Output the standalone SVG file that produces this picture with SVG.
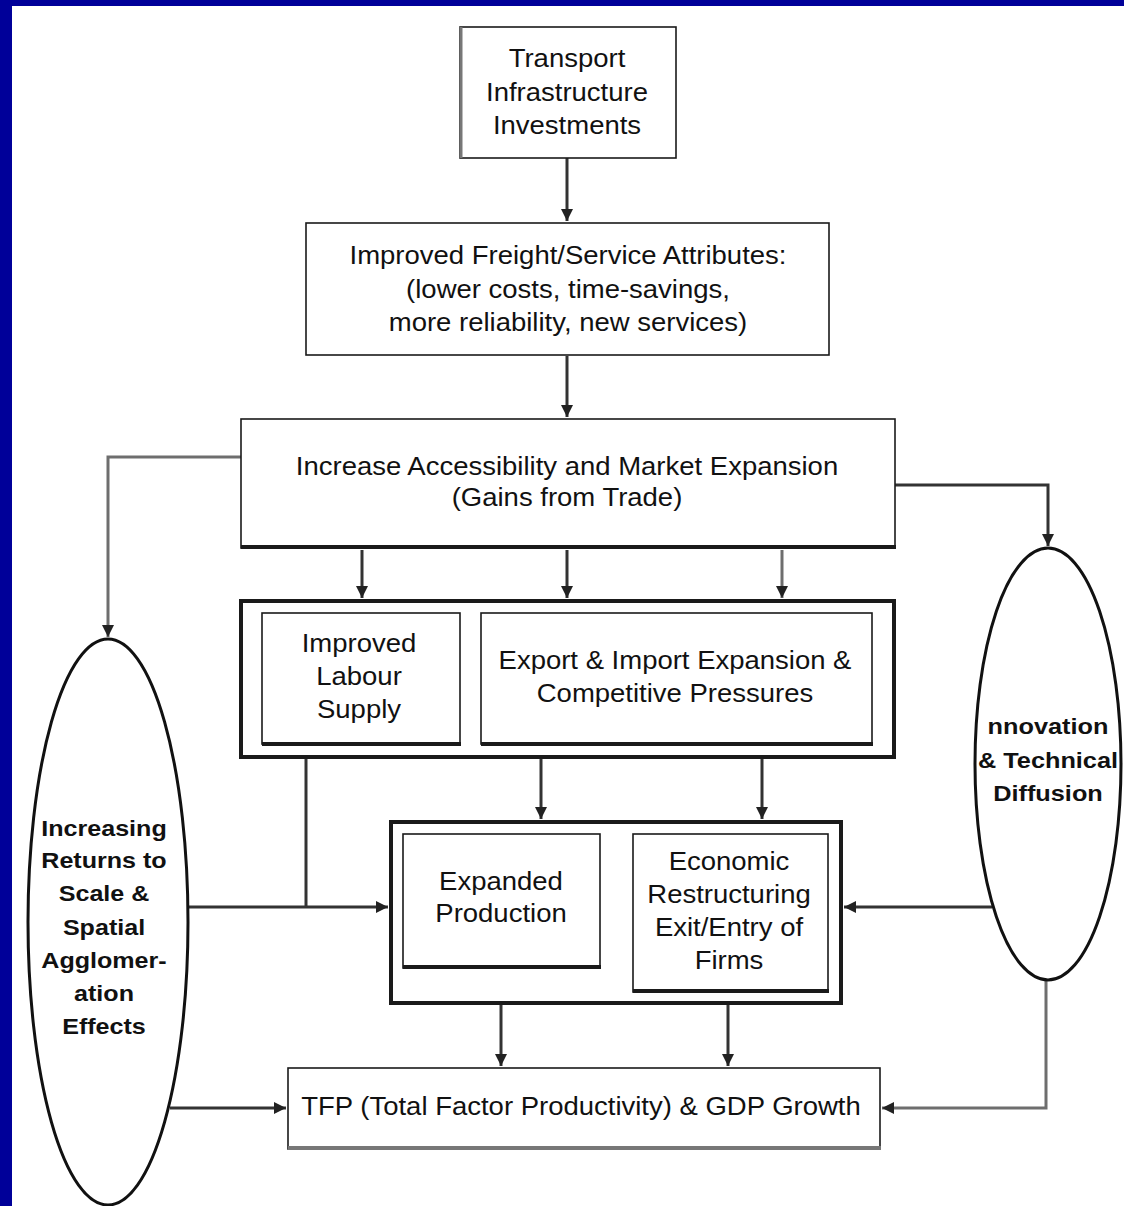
<svg xmlns="http://www.w3.org/2000/svg" width="1124" height="1206" viewBox="0 0 1124 1206">
<style>
.bx{fill:#fff;stroke:#1a1a1a;stroke-width:1.6}
.outer{fill:#fff;stroke:#1a1a1a;stroke-width:4}
.sh{stroke:#1a1a1a;stroke-width:4;fill:none}
.shg{stroke:#777;stroke-width:4;fill:none}
.t{font-family:"Liberation Sans",Arial,sans-serif;font-size:25px;fill:#111;text-anchor:middle}
.tb{font-family:"Liberation Sans",Arial,sans-serif;font-size:22px;font-weight:bold;fill:#111;text-anchor:middle}
.ell{fill:#fff;stroke:#111;stroke-width:3}
.c{fill:none;stroke:#333;stroke-width:3}
.cg{fill:none;stroke:#6e6e6e;stroke-width:3}
</style>
<defs>
<marker id="ah" viewBox="0 0 10 10" refX="10" refY="5" markerWidth="4" markerHeight="4" markerUnits="strokeWidth" orient="auto">
<path d="M0 0 L10 5 L0 10 Z" fill="#222"/>
</marker>
</defs>
<rect x="0" y="0" width="1124" height="1206" fill="#fff"/>
<rect x="0" y="0" width="1124" height="6" fill="#000099"/>
<rect x="0" y="0" width="12" height="1206" fill="#000099"/>

<g id="connectors">
<path class="c" d="M567 158 V221" marker-end="url(#ah)"/>
<path class="c" d="M567 356 V417" marker-end="url(#ah)"/>
<path class="cg" d="M241 457 H108 V637" marker-end="url(#ah)"/>
<path class="c" d="M895 485 H1048 V546" marker-end="url(#ah)"/>
<path class="c" d="M362 550 V598" marker-end="url(#ah)"/>
<path class="c" d="M567 550 V598" marker-end="url(#ah)"/>
<path class="cg" d="M782 550 V598" marker-end="url(#ah)"/>
<path class="c" d="M306 759 V907"/>
<path class="c" d="M541 759 V819" marker-end="url(#ah)"/>
<path class="c" d="M762 759 V819" marker-end="url(#ah)"/>
<path class="c" d="M188 907 H388" marker-end="url(#ah)"/>
<path class="c" d="M992 907 H844" marker-end="url(#ah)"/>
<path class="c" d="M633 893 H602" marker-end="url(#ah)"/>
<path class="c" d="M501 1005 V1066" marker-end="url(#ah)"/>
<path class="c" d="M728 1005 V1066" marker-end="url(#ah)"/>
<path class="c" d="M170 1108 H286" marker-end="url(#ah)"/>
<path class="cg" d="M1046 980 V1108 H882" marker-end="url(#ah)"/>
</g>

<g id="n-transport">
<rect class="bx" x="460" y="27" width="216" height="131"/>
<line x1="461" y1="27" x2="461" y2="158" stroke="#777" stroke-width="3"/>
<text class="t" transform="matrix(1.1 0 0 1 567 0)"><tspan x="0" y="67">Transport</tspan><tspan x="0" y="101">Infrastructure</tspan><tspan x="0" y="134">Investments</tspan></text>
</g>

<g id="n-freight">
<rect class="bx" x="306" y="223" width="523" height="132"/>
<text class="t" transform="matrix(1.1 0 0 1 568 0)"><tspan x="0" y="264">Improved Freight/Service Attributes:</tspan><tspan x="0" y="298">(lower costs, time-savings,</tspan><tspan x="0" y="331">more reliability, new services)</tspan></text>
</g>

<g id="n-access">
<rect class="bx" x="241" y="419" width="654" height="129"/>
<line class="sh" x1="241" y1="547" x2="896" y2="547"/>
<text class="t" transform="matrix(1.1 0 0 1 567 0)"><tspan x="0" y="475">Increase Accessibility and Market Expansion</tspan><tspan x="0" y="506">(Gains from Trade)</tspan></text>
</g>

<g id="n-row2">
<rect class="outer" x="241" y="601" width="653" height="156"/>
</g>

<g id="n-labour">
<rect class="bx" x="262" y="613" width="198" height="131"/>
<line class="sh" x1="262" y1="744" x2="461" y2="744" stroke-width="3"/>
<text class="t" transform="matrix(1.1 0 0 1 359 0)"><tspan x="0" y="652">Improved</tspan><tspan x="0" y="685">Labour</tspan><tspan x="0" y="718">Supply</tspan></text>
</g>

<g id="n-export">
<rect class="bx" x="481" y="613" width="391" height="131"/>
<line class="sh" x1="481" y1="744" x2="873" y2="744" stroke-width="3"/>
<text class="t" transform="matrix(1.1 0 0 1 675 0)"><tspan x="0" y="669">Export &amp; Import Expansion &amp;</tspan><tspan x="0" y="702">Competitive Pressures</tspan></text>
</g>

<g id="n-row3">
<rect class="outer" x="391" y="822" width="450" height="181"/>
</g>

<g id="n-expanded">
<rect class="bx" x="403" y="834" width="197" height="134"/>
<line class="sh" x1="403" y1="967" x2="601" y2="967" stroke-width="3"/>
<text class="t" transform="matrix(1.1 0 0 1 501 0)"><tspan x="0" y="890">Expanded</tspan><tspan x="0" y="922">Production</tspan></text>
</g>

<g id="n-restructuring">
<rect class="bx" x="633" y="834" width="195" height="158"/>
<line class="sh" x1="633" y1="991" x2="829" y2="991" stroke-width="3"/>
<text class="t" transform="matrix(1.1 0 0 1 729 0)"><tspan x="0" y="870">Economic</tspan><tspan x="0" y="903">Restructuring</tspan><tspan x="0" y="936">Exit/Entry of</tspan><tspan x="0" y="969">Firms</tspan></text>
</g>

<g id="n-tfp">
<rect class="bx" x="288" y="1068" width="592" height="81"/>
<line class="shg" x1="288" y1="1148" x2="881" y2="1148"/>
<text class="t" transform="matrix(1.1 0 0 1 581 0)"><tspan x="0" y="1115">TFP (Total Factor Productivity) &amp; GDP Growth</tspan></text>
</g>

<g id="n-returns">
<ellipse class="ell" cx="108" cy="922" rx="80" ry="283"/>
<text class="tb" transform="matrix(1.14 0 0 1 104 0)"><tspan x="0" y="836">Increasing</tspan><tspan x="0" y="868">Returns to</tspan><tspan x="0" y="901">Scale &amp;</tspan><tspan x="0" y="935">Spatial</tspan><tspan x="0" y="968">Agglomer-</tspan><tspan x="0" y="1001">ation</tspan><tspan x="0" y="1034">Effects</tspan></text>
</g>

<g id="n-innovation">
<ellipse class="ell" cx="1048" cy="764" rx="73" ry="216"/>
<text class="tb" transform="matrix(1.15 0 0 1 1048 0)"><tspan x="0" y="734">nnovation</tspan><tspan x="0" y="768">&amp; Technical</tspan><tspan x="0" y="801">Diffusion</tspan></text>
</g>
</svg>
